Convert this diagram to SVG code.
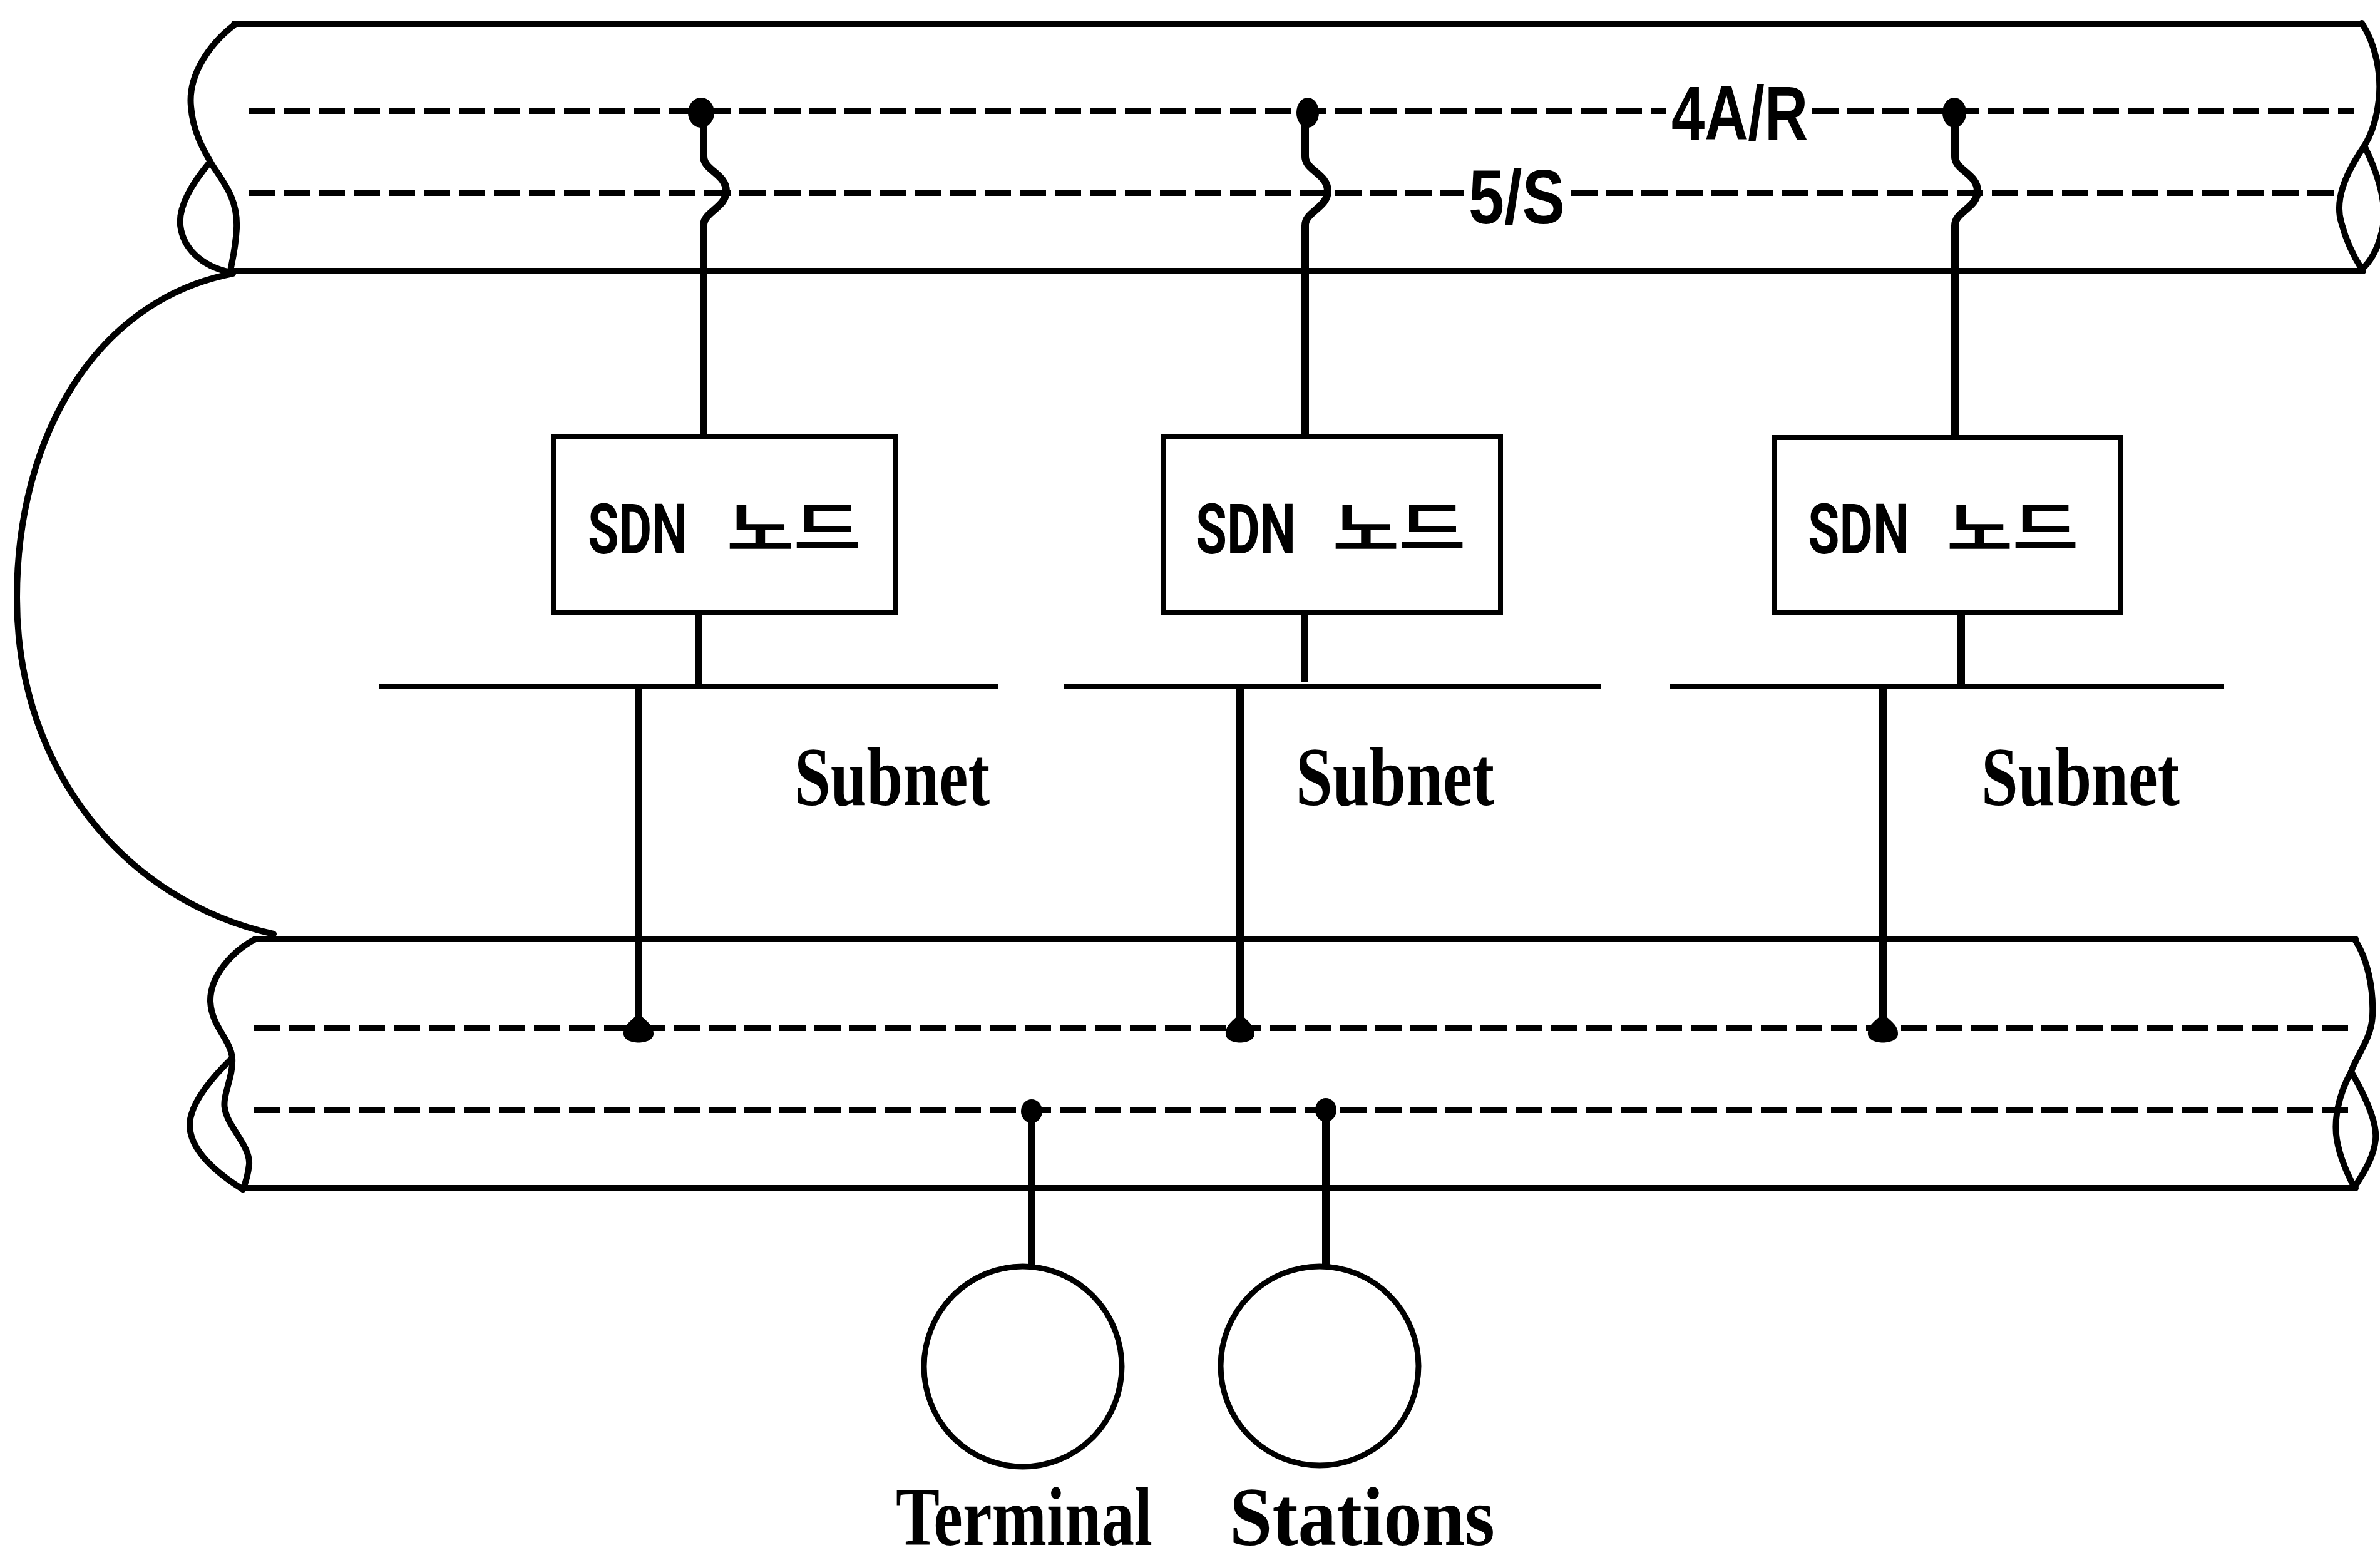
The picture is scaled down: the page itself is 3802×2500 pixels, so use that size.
<svg xmlns="http://www.w3.org/2000/svg" width="3802" height="2500" viewBox="0 0 3802 2500">
<style>
.pipe{fill:none;stroke:#000;stroke-width:10;stroke-linecap:round;stroke-linejoin:round}
.dash{fill:none;stroke:#000;stroke-width:10;stroke-dasharray:42 14}
.conn{fill:none;stroke:#000;stroke-width:12;stroke-linejoin:round}
.sub{fill:none;stroke:#000;stroke-width:8}
.box{fill:#fff;stroke:#000;stroke-width:8}
.dot{fill:#000}
.stn{fill:#fff;stroke:#000;stroke-width:9}
.lbl{font-family:"Liberation Sans","Noto Sans CJK KR",sans-serif;font-weight:bold;font-size:123px;fill:#000}
.sdn{font-family:Roboto,"Liberation Sans",sans-serif;font-weight:bold;font-size:112px;fill:#000}
.ko{font-family:"Noto Sans CJK KR",sans-serif;font-weight:bold;font-size:92px;fill:#000}
.serif{font-family:"Liberation Serif","Noto Sans CJK KR",serif;font-weight:bold;font-size:134px;fill:#000}
</style>
<rect width="3802" height="2500" fill="#fff"/>

<g id="bus-upper">
  <path class="pipe" d="M374,38 H3773"/>
  <path class="pipe" d="M368,433 H3775"/>
  <path class="pipe" d="M374,40 C335,70 300,120 305,170 C308,210 325,240 340,265 C360,295 380,320 378,365 C376,400 370,420 368,433"/>
  <path class="pipe" d="M336,258 C305,295 285,330 288,360 C292,395 320,425 368,435"/>
  <path class="pipe" d="M3773,37 C3795,70 3805,120 3800,160 C3796,195 3785,220 3777,233"/>
  <path class="pipe" d="M3777,233 C3745,280 3730,320 3740,355 C3748,385 3760,410 3773,430"/>
  <path class="pipe" d="M3777,233 C3800,280 3815,330 3805,370 C3798,400 3785,420 3773,430"/>
  <path class="dash" d="M397,177 H2662"/>
  <path class="dash" d="M2895,177 H3760"/>
  <path class="dash" d="M397,308 H2338"/>
  <path class="dash" d="M2510,308 H3730"/>
  <text class="lbl" x="2670" y="223" textLength="218" lengthAdjust="spacingAndGlyphs">4A/R</text>
  <text class="lbl" x="2346" y="357" textLength="154" lengthAdjust="spacingAndGlyphs">5/S</text>
</g>

<g id="bus-lower">
  <path class="pipe" d="M408,1500 H3763"/>
  <path class="pipe" d="M388,1898 H3763"/>
  <path class="pipe" d="M408,1500 C370,1520 335,1560 336,1600 C338,1640 368,1660 371,1690 C373,1720 355,1750 359,1770 C363,1800 400,1830 398,1860 C396,1880 390,1895 388,1900"/>
  <path class="pipe" d="M371,1690 C340,1720 305,1760 303,1795 C302,1835 340,1870 388,1900"/>
  <path class="pipe" d="M3761,1500 C3782,1530 3792,1580 3790,1623 C3788,1660 3765,1685 3756,1712"/>
  <path class="pipe" d="M3756,1712 C3735,1750 3728,1790 3733,1820 C3738,1850 3750,1875 3761,1897"/>
  <path class="pipe" d="M3756,1712 C3775,1745 3798,1790 3795,1820 C3792,1850 3775,1875 3761,1897"/>
  <path class="dash" d="M405,1642 H3758"/>
  <path class="dash" d="M405,1773 H3758"/>
</g>

<path id="ring" class="pipe" d="M372,437 C150,480 27,700 27,955 C27,1230 200,1440 437,1492"/>

<g id="connectors">
  <path class="conn" d="M1124,180 V250 C1124,272 1160,278 1160,305 C1160,332 1124,338 1124,360 V698"/>
  <path class="conn" d="M2085,180 V250 C2085,272 2121,278 2121,305 C2121,332 2085,338 2085,360 V698"/>
  <path class="conn" d="M3123,180 V250 C3123,272 3159,278 3159,305 C3159,332 3123,338 3123,360 V698"/>
  <ellipse class="dot" cx="1120" cy="180" rx="21" ry="24"/>
  <ellipse class="dot" cx="2089" cy="180" rx="18" ry="24"/>
  <ellipse class="dot" cx="3122" cy="180" rx="19" ry="24"/>
  <path class="conn" d="M1116,978 V1096"/>
  <path class="conn" d="M2084,978 V1090"/>
  <path class="conn" d="M3133,978 V1096"/>
  <path class="sub" d="M606,1096 H1594"/>
  <path class="sub" d="M1700,1096 H2558"/>
  <path class="sub" d="M2668,1096 H3552"/>
  <path class="conn" d="M1020,1096 V1645"/>
  <path class="conn" d="M1981,1096 V1645"/>
  <path class="conn" d="M3008,1096 V1645"/>
  <path class="dot" d="M1020,1618 C1027,1628 1045,1636 1044,1652 C1043,1670 997,1670 996,1652 C995,1636 1013,1628 1020,1618 Z"/>
  <path class="dot" d="M1981,1618 C1988,1628 2005,1636 2004,1652 C2003,1670 1959,1670 1958,1652 C1957,1636 1974,1628 1981,1618 Z"/>
  <path class="dot" d="M3008,1618 C3015,1628 3033,1636 3032,1652 C3031,1670 2985,1670 2984,1652 C2983,1636 3001,1628 3008,1618 Z"/>
  <path class="conn" d="M1648,1773 V2023"/>
  <path class="conn" d="M2118,1773 V2023"/>
  <ellipse class="dot" cx="1648" cy="1775" rx="17" ry="19"/>
  <ellipse class="dot" cx="2118" cy="1773" rx="17" ry="19"/>
</g>

<g id="node-1">
  <rect class="box" x="884" y="698" width="546" height="280"/>
  <text class="sdn" x="939" y="884" textLength="159" lengthAdjust="spacingAndGlyphs">SDN</text>
  <text class="ko" x="1161" y="878" textLength="214" lengthAdjust="spacingAndGlyphs">노드</text>
</g>
<g id="node-2">
  <rect class="box" x="1858" y="698" width="539" height="280"/>
  <text class="sdn" x="1910" y="884" textLength="160" lengthAdjust="spacingAndGlyphs">SDN</text>
  <text class="ko" x="2129" y="878" textLength="212" lengthAdjust="spacingAndGlyphs">노드</text>
</g>
<g id="node-3">
  <rect class="box" x="2834" y="699" width="553" height="279"/>
  <text class="sdn" x="2888" y="884" textLength="162" lengthAdjust="spacingAndGlyphs">SDN</text>
  <text class="ko" x="3110" y="878" textLength="210" lengthAdjust="spacingAndGlyphs">노드</text>
</g>

<g id="subnet-labels">
  <text class="serif" x="1269" y="1286" textLength="312" lengthAdjust="spacingAndGlyphs">Subnet</text>
  <text class="serif" x="2070" y="1286" textLength="317" lengthAdjust="spacingAndGlyphs">Subnet</text>
  <text class="serif" x="3165" y="1286" textLength="317" lengthAdjust="spacingAndGlyphs">Subnet</text>
</g>

<g id="station-1">
  <ellipse class="stn" cx="1634" cy="2183" rx="158" ry="160"/>
</g>
<g id="station-2">
  <ellipse class="stn" cx="2108" cy="2182" rx="158" ry="159"/>
</g>
<g id="station-label">
  <text class="serif" x="1431" y="2468" font-size="126" textLength="410" lengthAdjust="spacingAndGlyphs">Terminal</text>
  <text class="serif" x="1964" y="2468" font-size="126" textLength="424" lengthAdjust="spacingAndGlyphs">Stations</text>
</g>
</svg>
